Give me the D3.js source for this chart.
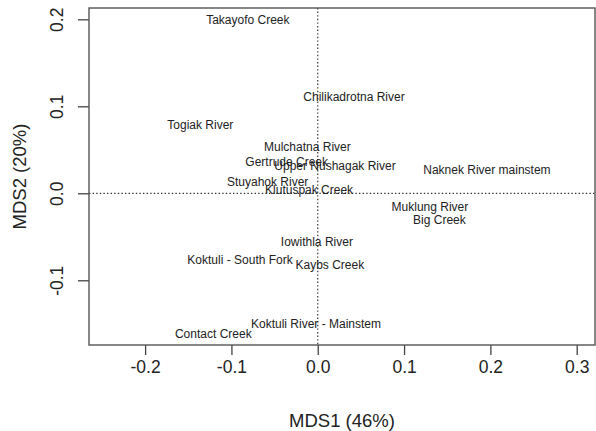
<!DOCTYPE html>
<html>
<head>
<meta charset="utf-8">
<script src="https://cdn.jsdelivr.net/npm/d3@7"></script>
<style>
  body { margin: 0; background: #fff; }
  text { font-family: "Liberation Sans", Arial, Helvetica, sans-serif; fill: #222; }
</style>
</head>
<body>
<div id="plot"></div>
<script>
// site names and their MDS scores
var sites = ["Takayofo Creek", "Chilikadrotna River", "Togiak River", "Mulchatna River",
  "Gertrude Creek", "Upper Nushagak River", "Naknek River mainstem", "Stuyahok River",
  "Klutuspak Creek", "Muklung River", "Big Creek", "Iowithla River",
  "Koktuli - South Fork", "Kaybs Creek", "Koktuli River - Mainstem", "Contact Creek"];
var mds1 = [-0.081, 0.042, -0.136, -0.012, -0.036, 0.020, 0.196, -0.058,
  -0.010, 0.130, 0.141, -0.001, -0.090, 0.014, -0.002, -0.121];
var mds2 = [0.199, 0.111, 0.079, 0.054, 0.036, 0.032, 0.027, 0.013,
  0.004, -0.016, -0.030, -0.056, -0.076, -0.082, -0.150, -0.161];

var xTicks = [-0.2, -0.1, 0.0, 0.1, 0.2, 0.3];
var yTicks = [-0.1, 0.0, 0.1, 0.2];

// svg size and plot area
var svgWidth = 596;
var svgHeight = 431;
var margin = { top: 8, right: 1, bottom: 86, left: 89 };
var chartWidth = svgWidth - margin.left - margin.right;
var chartHeight = svgHeight - margin.top - margin.bottom;

var svg = d3.select("#plot").append("svg")
  .attr("width", svgWidth)
  .attr("height", svgHeight);

var chartGroup = svg.append("g")
  .attr("transform", `translate(${margin.left}, ${margin.top})`);

// scales
var xScale = d3.scaleLinear()
  .domain([-0.265, 0.3212])
  .range([0, chartWidth]);

var yScale = d3.scaleLinear()
  .domain([-0.1744, 0.213])
  .range([chartHeight, 0]);

// plain hyphen minus like R does
var fmt = d => d.toFixed(1);

// axes
var bottomAxis = d3.axisBottom(xScale)
  .tickValues(xTicks)
  .tickFormat(fmt)
  .tickSize(10)
  .tickPadding(6);

var leftAxis = d3.axisLeft(yScale)
  .tickValues(yTicks)
  .tickFormat(fmt)
  .tickSize(11);

var xAxisG = chartGroup.append("g")
  .attr("transform", `translate(0, ${chartHeight})`)
  .call(bottomAxis);

var yAxisG = chartGroup.append("g")
  .call(leftAxis);

[xAxisG, yAxisG].forEach(g => {
  g.select(".domain").remove();
  g.selectAll("line").attr("stroke", "#444").attr("stroke-width", 1.3);
  g.selectAll("text")
    .attr("font-size", "17.5px")
    .attr("fill", "#222")
    .style("font-family", "'Liberation Sans', Arial, sans-serif");
});

// R style: y tick labels are parallel to the axis
yAxisG.selectAll("text")
  .attr("transform", "rotate(-90)")
  .attr("x", 0)
  .attr("y", -32)
  .attr("dy", "0.35em")
  .attr("text-anchor", "middle");

// dotted reference lines through zero
chartGroup.append("line")
  .attr("x1", xScale(0)).attr("x2", xScale(0))
  .attr("y1", 0).attr("y2", chartHeight)
  .attr("stroke", "#333")
  .attr("stroke-width", 1.2)
  .attr("stroke-dasharray", "1.4,2.2");

chartGroup.append("line")
  .attr("x1", 0).attr("x2", chartWidth)
  .attr("y1", yScale(0)).attr("y2", yScale(0))
  .attr("stroke", "#333")
  .attr("stroke-width", 1.2)
  .attr("stroke-dasharray", "1.4,2.2");

// box around the plot
chartGroup.append("rect")
  .attr("x", 0).attr("y", 0)
  .attr("width", chartWidth).attr("height", chartHeight)
  .attr("fill", "none")
  .attr("stroke", "#555")
  .attr("stroke-width", 1.4);

// site labels centred on their points
chartGroup.selectAll(".site")
  .data(sites)
  .enter()
  .append("text")
  .attr("class", "site")
  .attr("x", (d, i) => xScale(mds1[i]))
  .attr("y", (d, i) => yScale(mds2[i]))
  .attr("dy", "0.35em")
  .attr("text-anchor", "middle")
  .attr("font-size", "12px")
  .text(d => d);

// axis titles
svg.append("text")
  .attr("x", margin.left + chartWidth / 2)
  .attr("y", 421)
  .attr("dy", "0.35em")
  .attr("text-anchor", "middle")
  .attr("font-size", "18.5px")
  .text("MDS1 (46%)");

svg.append("text")
  .attr("transform", `translate(20, ${margin.top + chartHeight / 2}) rotate(-90)`)
  .attr("dy", "0.35em")
  .attr("text-anchor", "middle")
  .attr("font-size", "18.5px")
  .text("MDS2 (20%)");
</script>
</body>
</html>
